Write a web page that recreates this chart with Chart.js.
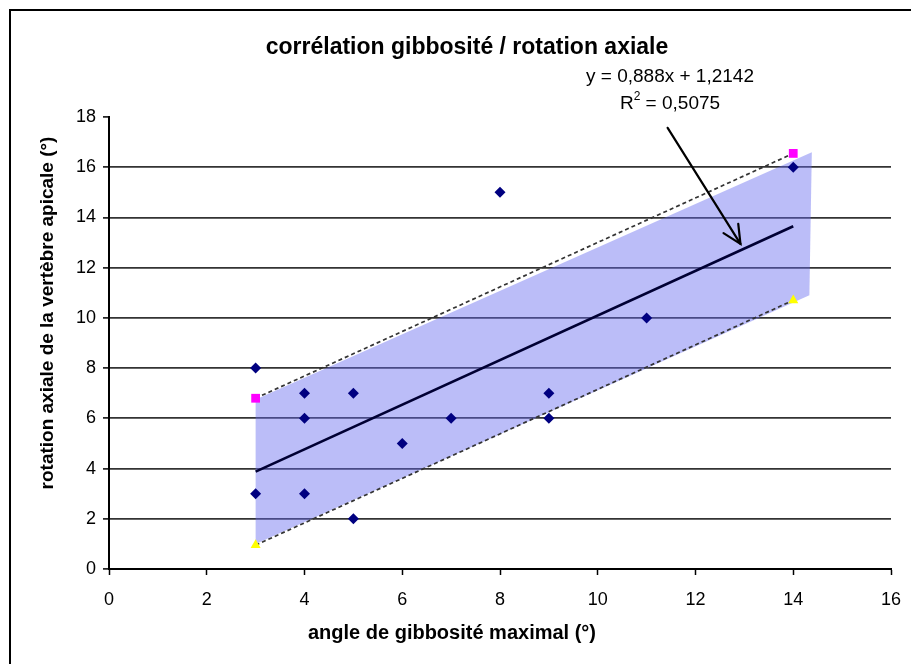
<!DOCTYPE html>
<html><head><meta charset="utf-8">
<script src="https://cdn.jsdelivr.net/npm/chart.js@4/dist/chart.umd.min.js"></script>
<style>html,body{margin:0;padding:0;background:#fff;}canvas{display:block;}</style>
</head><body>
<canvas id="c" width="911" height="664"></canvas>
<script>
// ---- text ----
const titleText = 'corrélation gibbosité / rotation axiale';
const xTitle = 'angle de gibbosité maximal (°)';
const yTitle = 'rotation axiale de la vertèbre apicale (°)';
const equationText = 'y = 0,888x + 1,2142';
const r2Base = 'R';
const r2Sup = '2';
const r2Rest = ' = 0,5075';

// ---- data ----
const gibbosite = [3, 3, 4, 4, 4, 5, 5, 6, 7, 8, 9, 9, 11, 14];
const rotation  = [8, 3, 7, 6, 3, 7, 2, 5, 6, 15, 7, 6, 10, 16];
const trendX = [3, 14];
const trendY = [3.88, 13.65];
const upperX = [3, 14];
const upperY = [6.8, 16.55];
const lowerX = [3, 14];
const lowerY = [0.95, 10.7];
const bandX = [3, 14.38, 14.33, 3, 3];
const bandY = [6.75, 16.6, 10.9, 1.0, 6.75];
const arrowFrom = [11.43, 17.57];
const arrowTo = [12.92, 12.95];
const xTicks = [0, 2, 4, 6, 8, 10, 12, 14, 16];
const yTicks = [0, 2, 4, 6, 8, 10, 12, 14, 16, 18];

const pts = (xs, ys) => xs.map((x, i) => ({x, y: ys[i]}));
const FONT = '"Liberation Sans", Arial, sans-serif';

const decor = {
  id: 'decor',
  beforeDraw(chart) {
    const ctx = chart.ctx;
    ctx.save();
    ctx.fillStyle = '#fff';
    ctx.fillRect(0, 0, chart.width, chart.height);
    ctx.restore();
  },
  afterDraw(chart) {
    const ctx = chart.ctx, xs = chart.scales.x, ys = chart.scales.y;
    ctx.save();
    // frame
    ctx.strokeStyle = '#000'; ctx.lineWidth = 2;
    ctx.strokeRect(10, 10, 980, 700);
    ctx.fillStyle = '#000';
    ctx.textAlign = 'center'; ctx.textBaseline = 'middle';
    // title
    ctx.font = 'bold 23px ' + FONT;
    ctx.fillText(titleText, 467, 48);
    // axis titles
    ctx.font = 'bold 20px ' + FONT;
    ctx.fillText(xTitle, 452, 633);
    ctx.font = 'bold 19px ' + FONT;
    ctx.save();
    ctx.translate(48, 313); ctx.rotate(-Math.PI / 2);
    ctx.fillText(yTitle, 0, 0);
    ctx.restore();
    // equation
    ctx.font = '19px ' + FONT;
    ctx.fillText(equationText, 670, 77);
    const wR = ctx.measureText(r2Base).width, wRest = ctx.measureText(r2Rest).width;
    ctx.font = '12px ' + FONT;
    const wS = ctx.measureText(r2Sup).width;
    const total = wR + wS + wRest;
    let x0 = 670 - total / 2;
    ctx.textAlign = 'left';
    ctx.font = '19px ' + FONT;
    ctx.fillText(r2Base, x0, 104);
    ctx.font = '12px ' + FONT;
    ctx.fillText(r2Sup, x0 + wR, 97);
    ctx.font = '19px ' + FONT;
    ctx.fillText(r2Rest, x0 + wR + wS, 104);
    // arrow
    const ax = xs.getPixelForValue(arrowFrom[0]), ay = ys.getPixelForValue(arrowFrom[1]);
    const bx = xs.getPixelForValue(arrowTo[0]), by = ys.getPixelForValue(arrowTo[1]);
    ctx.strokeStyle = '#000'; ctx.lineWidth = 2.2; ctx.lineCap = 'round';
    ctx.beginPath(); ctx.moveTo(ax, ay); ctx.lineTo(bx, by); ctx.stroke();
    const ang = Math.atan2(by - ay, bx - ax), L = 20, a = 0.45;
    ctx.beginPath();
    ctx.moveTo(bx - L * Math.cos(ang - a), by - L * Math.sin(ang - a));
    ctx.lineTo(bx, by);
    ctx.lineTo(bx - L * Math.cos(ang + a), by - L * Math.sin(ang + a));
    ctx.stroke();
    ctx.restore();
  }
};

new Chart(document.getElementById('c'), {
  type: 'scatter',
  data: {
    datasets: [
      { data: pts(bandX, bandY), showLine: true, fill: 'shape', pointRadius: 0,
        borderWidth: 0, borderColor: 'rgba(0,0,0,0)', backgroundColor: 'rgba(100,104,240,0.44)', order: 6, tension: 0 },
      { data: pts(upperX, upperY), showLine: true, pointRadius: 0, borderColor: '#333',
        borderWidth: 1.7, borderDash: [4, 3], order: 5 },
      { data: pts(lowerX, lowerY), showLine: true, pointRadius: 0, borderColor: '#333',
        borderWidth: 1.7, borderDash: [4, 3], order: 5 },
      { data: pts(trendX, trendY), showLine: true, pointRadius: 0, borderColor: '#000033',
        borderWidth: 2.6, order: 4 },
      { data: pts(upperX, upperY), pointStyle: 'rect', pointRadius: 6.2, backgroundColor: '#ff00ff',
        borderColor: '#ff00ff', borderWidth: 0, order: 3 },
      { data: pts(lowerX, lowerY), pointStyle: 'triangle', pointRadius: 5.8, backgroundColor: '#ffff00',
        borderColor: '#ffff00', borderWidth: 0, order: 3 },
      { data: pts(gibbosite, rotation), pointStyle: 'rectRot', pointRadius: 5.5, backgroundColor: '#000080',
        borderColor: '#000080', borderWidth: 0, order: 1 }
    ]
  },
  options: {
    responsive: false, animation: false, devicePixelRatio: 1,
    layout: { padding: { left: 49, right: 20, top: 117, bottom: 50 } },
    plugins: { legend: { display: false }, tooltip: { enabled: false } },
    scales: {
      x: {
        type: 'linear', min: 0, max: 16,
        afterBuildTicks: s => { s.ticks = xTicks.map(v => ({ value: v })); },
        afterFit: s => { s.height = 45; s.paddingLeft = 0; s.paddingRight = 0; },
        grid: { drawOnChartArea: false, tickLength: 6, tickColor: '#000', tickWidth: 1.5 },
        border: { color: '#000', width: 2 },
        ticks: { color: '#000', font: { family: FONT, size: 18 }, padding: 14, maxRotation: 0 }
      },
      y: {
        type: 'linear', min: 0, max: 18,
        afterBuildTicks: s => { s.ticks = yTicks.map(v => ({ value: v })); },
        afterFit: s => { s.width = 60; },
        grid: { color: c => (c.tick && c.tick.value === 18) ? 'rgba(0,0,0,0)' : '#333',
                lineWidth: 1.8, tickLength: 6, tickColor: '#000', tickWidth: 1.5 },
        border: { color: '#000', width: 2 },
        ticks: { color: '#000', font: { family: FONT, size: 18 }, padding: 7 }
      }
    }
  },
  plugins: [decor]
});
</script>
</body></html>
